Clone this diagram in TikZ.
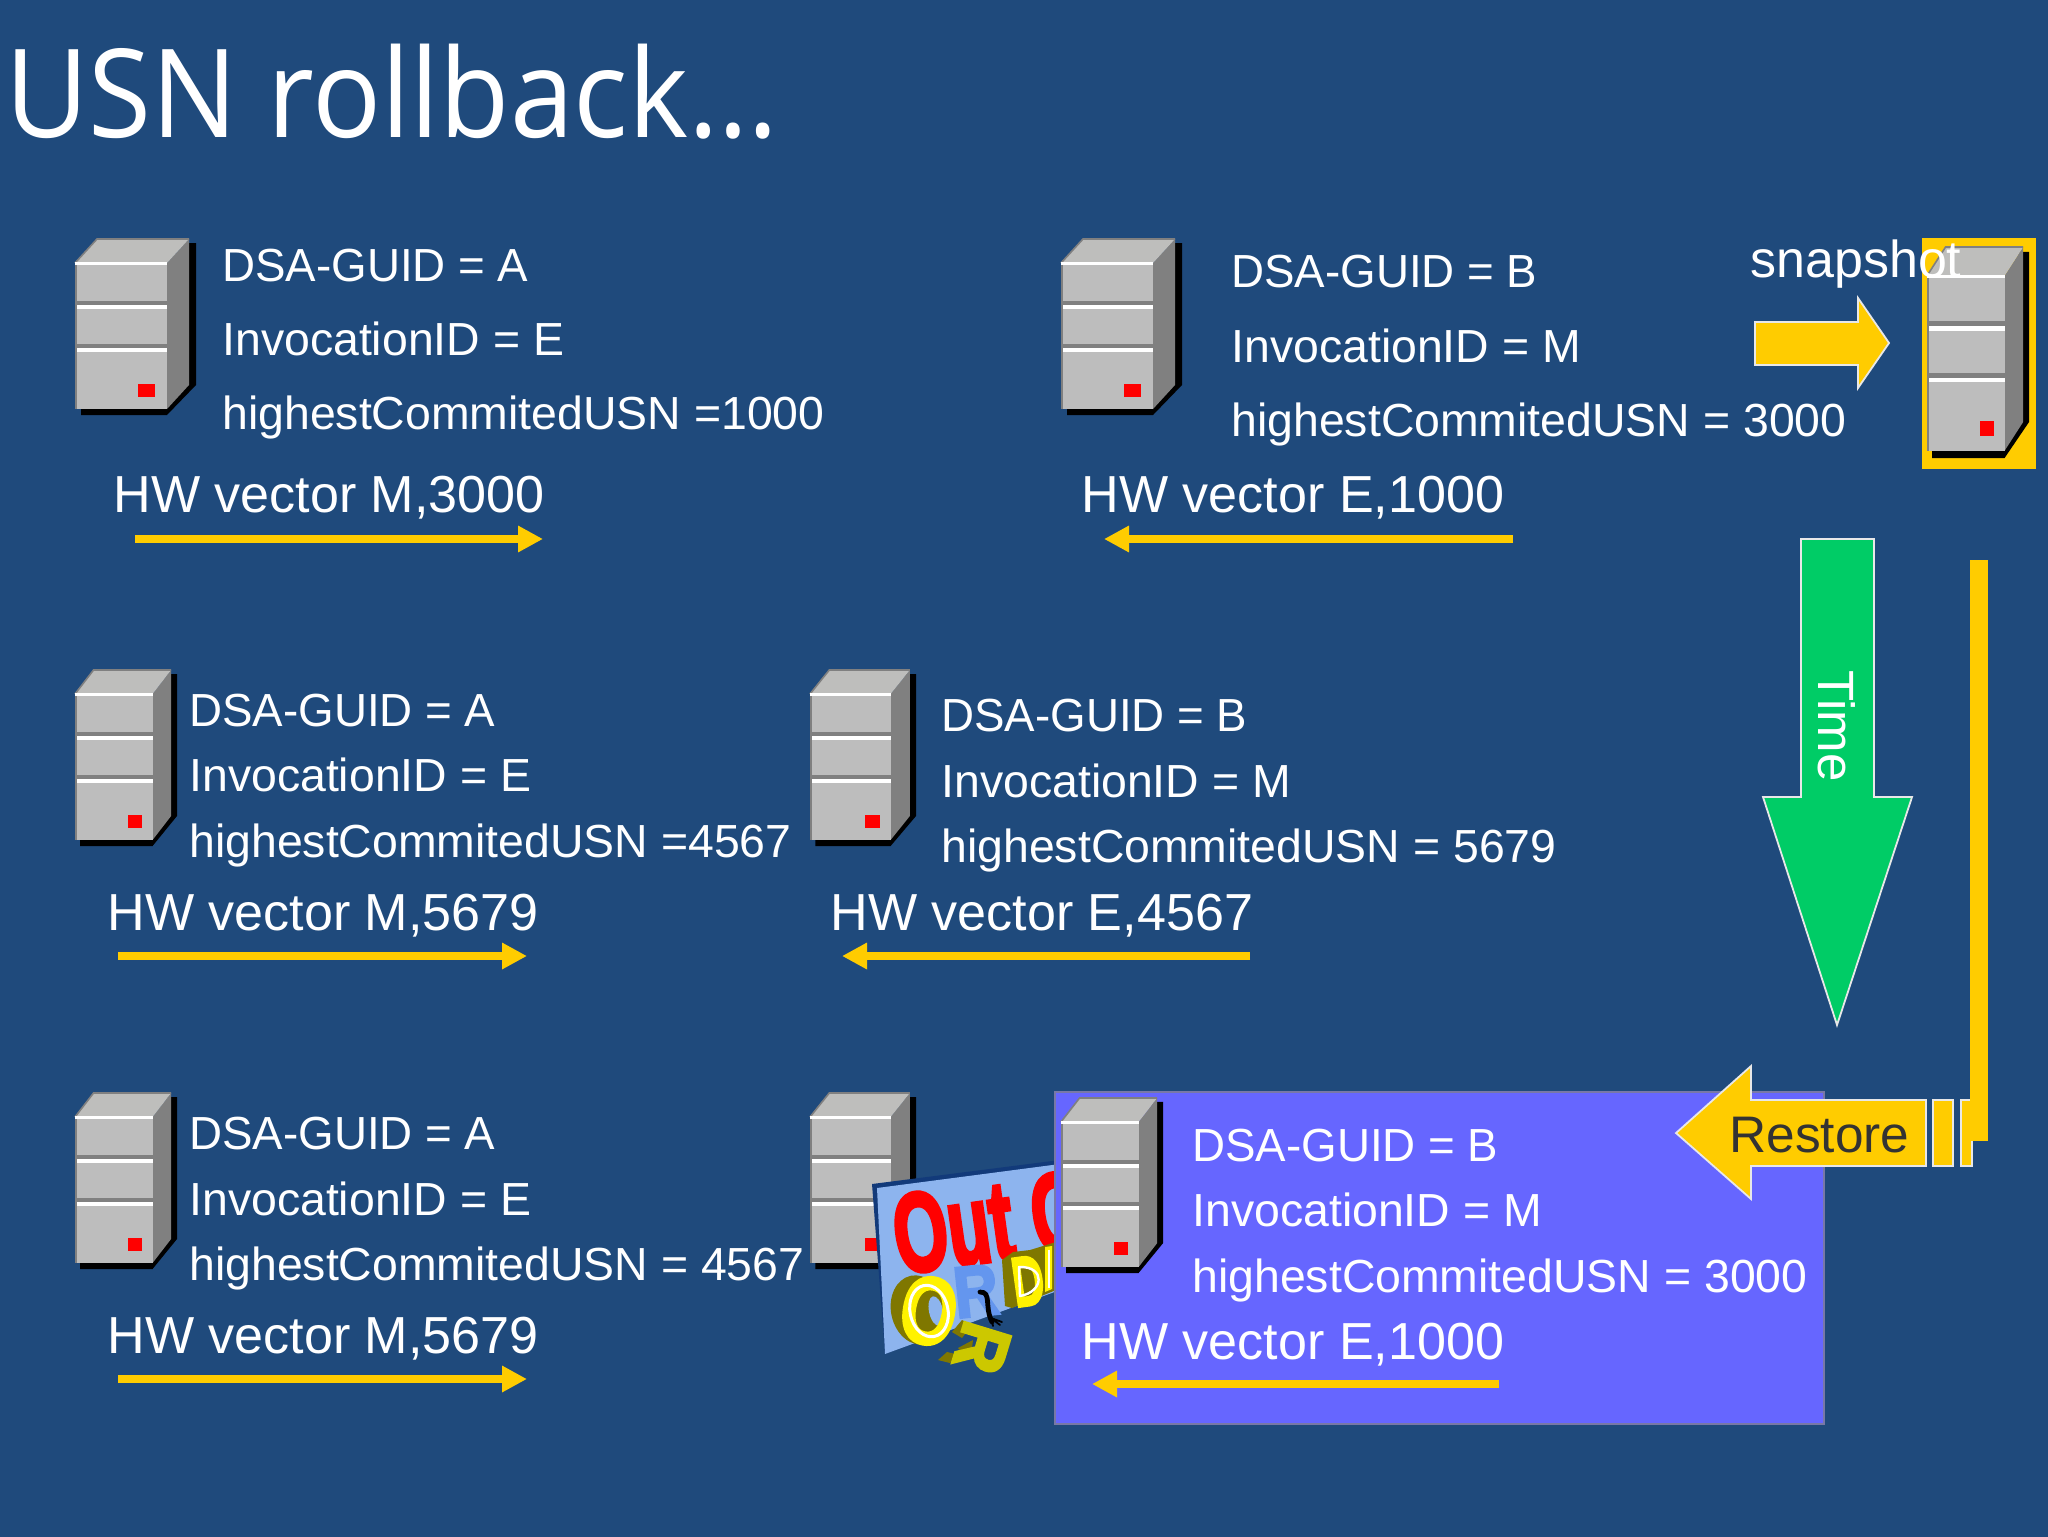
\documentclass[tikz,border=0pt]{standalone}
\usepackage{fontspec}
\setmainfont{Liberation Sans}
\newfontfamily\titlefont{Open Sans}
\newfontfamily\heavyfont{Liberation Sans}[BoldFeatures={FakeBold=4}]
\usetikzlibrary{arrows.meta}
\definecolor{bg}{HTML}{1F4A7C}
\definecolor{amber}{HTML}{FFCC00}
\definecolor{mint}{HTML}{00CC66}
\definecolor{violet}{HTML}{6666FF}
\definecolor{edgew}{HTML}{E8E8E8}
\definecolor{srvface}{HTML}{BDBDBD}
\definecolor{srvtop}{HTML}{BEBEBC}
\definecolor{srvside}{HTML}{808080}
\definecolor{panel}{HTML}{8DB4EE}
\definecolor{paneledge}{HTML}{123A7A}
\definecolor{olive}{HTML}{7F7700}
\definecolor{mustard}{HTML}{CCC800}
\definecolor{skyR}{HTML}{6496EE}
\tikzset{
  body/.style={anchor=base west,inner sep=0pt,text=white,font=\fontsize{23.2}{28}\selectfont},
  guid/.style={body,xscale=0.985},
  hw/.style={anchor=base west,inner sep=0pt,text=white,font=\fontsize{26.05}{30}\selectfont},
  thinarrow/.style={draw=amber,line width=4.3pt,-{Triangle[length=12.5pt,width=12.5pt]}},
  bigarrow/.style={fill=amber,draw=edgew,line width=0.9pt,line join=miter},
  signtext/.style={inner sep=0pt,font=\heavyfont\bfseries\fontsize{#1}{#1}\selectfont},
}
\newcommand{\serverbox}[4]{%
\begin{scope}[shift={(#1,#2)},xscale=#3/121,yscale=#4/176]
  \fill[black] (6,168)--(6,176)--(92,176)--(121,146)--(121,4)--(110,4)--cycle;
  \fill[srvside] (92,24)--(114,0)--(114,146)--(92,170)--cycle;
  \fill[srvtop] (0,24)--(22,0)--(114,0)--(92,24)--cycle;
  \draw[srvside,line width=0.8pt] (0,24)--(22,0)--(114,0);
  \fill[srvface] (0,24) rectangle (92,170);
  \fill[srvside] (0,24) rectangle (2,170);
  \fill[white] (0,23) rectangle (92,26);
  \fill[srvside] (2,62) rectangle (92,66);
  \fill[white] (2,66) rectangle (92,70);
  \fill[srvside] (2,105) rectangle (92,109);
  \fill[white] (2,109) rectangle (92,113);
  \fill[red] (63,145) rectangle (80,158);
\end{scope}}
\begin{document}
\begin{tikzpicture}[x=0.5pt,y=-0.5pt]
\useasboundingbox (0,0) rectangle (2048,1536);
\fill[bg] (-6,-6) rectangle (2054,1542);

\node[anchor=base west,inner sep=0pt,text=white,xscale=0.932,font=\titlefont\fontsize{61.5}{70}\selectfont] (title) at (5,137) {USN rollback\dots};

% row 1
\serverbox{75}{239}{121}{176}
\node[guid] (a1) at (222,281) {DSA-GUID = A};
\node[body] (a2) at (222,355) {InvocationID = E};
\node[body] (a3) at (222,429) {highestCommitedUSN =1000};
\node[hw] (a4) at (113,512) {HW vector M,3000};
\coordinate (a5) at (135,539); \coordinate (a6) at (543,539);
\draw[thinarrow] (a5) -- (a6);

\serverbox{1061}{239}{121}{176}
\node[guid] (b1) at (1231,287) {DSA-GUID = B};
\node[body] (b2) at (1231,362) {InvocationID = M};
\node[body] (b3) at (1231,436) {highestCommitedUSN = 3000};
\node[hw] (b4) at (1081,512) {HW vector E,1000};
\coordinate (b5) at (1513,539); \coordinate (b6) at (1104,539);
\draw[thinarrow] (b5) -- (b6);

% snapshot
\fill[amber] (1922,238) rectangle (2036,469);
\serverbox{1927}{247}{102}{211}
\node[hw,font=\fontsize{26}{30}\selectfont] (snap) at (1750,277) {snapshot};
\draw[bigarrow] (1755,322)--(1858,322)--(1858,298)--(1889,343)--(1858,388)--(1858,365)--(1755,365)--cycle;

% time
\draw[fill=mint,draw=edgew,line width=0.9pt] (1801,539)--(1874,539)--(1874,797)--(1912,797)--(1837,1025)--(1763,797)--(1801,797)--cycle;
\node[inner sep=0pt,text=white,rotate=-90,font=\fontsize{25.5}{30}\selectfont] (time) at (1837,726) {Time};

% row 2
\serverbox{75}{670}{102}{176}
\node[guid] (c1) at (189,726) {DSA-GUID = A};
\node[body] (c2) at (189,791) {InvocationID = E};
\node[body] (c3) at (189,857) {highestCommitedUSN =4567};
\node[hw] (c4) at (107,930) {HW vector M,5679};
\coordinate (c5) at (118,956); \coordinate (c6) at (527,956);
\draw[thinarrow] (c5) -- (c6);

\serverbox{810}{670}{106}{176}
\node[guid] (d1) at (941,731) {DSA-GUID = B};
\node[body] (d2) at (941,797) {InvocationID = M};
\node[body] (d3) at (941,862) {highestCommitedUSN = 5679};
\node[hw] (d4) at (830,930) {HW vector E,4567};
\coordinate (d5) at (1250,956); \coordinate (d6) at (842,956);
\draw[thinarrow] (d5) -- (d6);

% row 3
\serverbox{75}{1093}{102}{176}
\node[guid] (e1) at (189,1149) {DSA-GUID = A};
\node[body] (e2) at (189,1215) {InvocationID = E};
\node[body] (e3) at (189,1280) {highestCommitedUSN = 4567};
\node[hw] (e4) at (107,1353) {HW vector M,5679};
\coordinate (e5) at (118,1379); \coordinate (e6) at (527,1379);
\draw[thinarrow] (e5) -- (e6);

\serverbox{810}{1093}{106}{176}

% out of order sign
\fill[paneledge] (872,1184)--(1060,1160)--(1060,1290)--(885,1354)--cycle;
\fill[panel] (877,1188)--(1060,1164)--(1060,1290)--(885,1354)--cycle;
\node[signtext=56,text=red,anchor=base west,rotate=8,xscale=0.62] (sign1) at (899,1274) {Out O};
\node[signtext=36,text=skyR,rotate=6,xscale=0.85] (sign3) at (976,1291) {R};
% O extrusion and face
\fill[olive,rotate around={12:(918,1310)}] (918,1310) ellipse (27 and 35);
\fill[panel,rotate around={12:(936,1311)}] (936,1311) ellipse (7 and 15);
\node[signtext=47,text=yellow,rotate=-10,xscale=0.76] (sign2) at (929,1311) {O};
\draw[white,line width=1.5pt,rotate around={12:(929,1311)}] (929,1311) ellipse (19 and 26);
% D and the next letter
\fill[olive] (1002,1260)--(1013,1252)--(1030,1250)--(1056,1242)--(1056,1290)--(1012,1308)--(1005,1306)--cycle;
\node[signtext=35,text=yellow,rotate=8,xscale=0.62] (sign4) at (1028,1281) {D};
\draw[white,line width=1.2pt,line join=round] (1019,1267)--(1020,1296) .. controls (1044,1292) and (1046,1266) .. (1019,1267) -- cycle;
\fill[yellow] (1045,1247)--(1052,1246)--(1052,1289)--(1045,1292)--cycle;
\draw[white,line width=1pt] (1048.5,1250)--(1048.5,1288);
% fallen R
\fill[olive] (952,1332)--(962,1320)--(972,1325)--(962,1338)--cycle;
\fill[olive] (938,1360)--(947,1352)--(960,1355)--(950,1363)--cycle;
\fill[olive] (958,1348)--(973,1340)--(972,1348)--(963,1353)--cycle;
\node[signtext=35,text=mustard,rotate=-107,xscale=0.95] (sign5) at (982,1348) {R};
% squiggle
\draw[black,line width=2.4pt,line cap=round] (980,1292) .. controls (992,1292) and (984,1306) .. (992,1322);
\draw[black,line width=0.9pt,line cap=round] (991,1318)--(1002,1322) (991,1318)--(1000,1325) (991,1318)--(993,1326);

% restored panel
\draw[fill=violet,draw=srvside!70!violet,line width=1pt] (1055,1092) rectangle (1824,1424);
\serverbox{1061}{1098}{102}{175}
\node[guid] (f1) at (1192,1161) {DSA-GUID = B};
\node[body] (f2) at (1192,1226) {InvocationID = M};
\node[body] (f3) at (1192,1292) {highestCommitedUSN = 3000};
\node[hw] (f4) at (1081,1359) {HW vector E,1000};
\coordinate (f5) at (1499,1384); \coordinate (f6) at (1092,1384);
\draw[thinarrow] (f5) -- (f6);

% restore arrow
\draw[bigarrow] (1926,1100)--(1751,1100)--(1751,1066)--(1676,1133)--(1751,1199)--(1751,1166)--(1926,1166)--cycle;
\draw[bigarrow] (1933,1100) rectangle (1953,1166);
\draw[bigarrow] (1961,1100) rectangle (1972,1166);
\node[anchor=base west,inner sep=0pt,text=black!80,font=\fontsize{25.7}{30}\selectfont] (restore) at (1729,1152) {Restore};
\fill[amber] (1970,560) rectangle (1988,1141);
\end{tikzpicture}
\end{document}
